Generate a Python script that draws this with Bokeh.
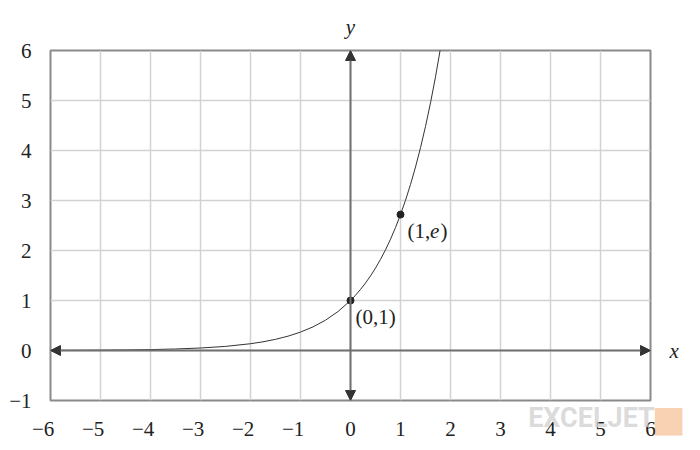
from bokeh.plotting import figure
from bokeh.models import Range1d, FixedTicker, Arrow, NormalHead, Label, ColumnDataSource, LinearAxis
from bokeh.embed import file_html
from bokeh.resources import INLINE

# ---- data ----
x_ticks = [-6, -5, -4, -3, -2, -1, 0, 1, 2, 3, 4, 5, 6]
x_tick_labels = ["−6", "−5", "−4", "−3", "−2", "−1", "0", "1", "2", "3", "4", "5", "6"]
y_ticks = [-1, 0, 1, 2, 3, 4, 5, 6]
y_tick_labels = ["−1", "0", "1", "2", "3", "4", "5", "6"]

curve_x = [-6.0, -5.5, -5.0, -4.5, -4.0, -3.5, -3.0, -2.5, -2.0, -1.75, -1.5, -1.25,
           -1.0, -0.75, -0.5, -0.25, 0.0, 0.1, 0.2, 0.3, 0.4, 0.5, 0.6, 0.7, 0.8,
           0.9, 1.0, 1.1, 1.2, 1.3, 1.4, 1.5, 1.6, 1.7, 1.8, 1.9]
curve_y = [0.00248, 0.00409, 0.00674, 0.01111, 0.01832, 0.03020, 0.04979, 0.08208,
           0.13534, 0.17377, 0.22313, 0.28650, 0.36788, 0.47237, 0.60653, 0.77880,
           1.0, 1.10517, 1.22140, 1.34986, 1.49182, 1.64872, 1.82212, 2.01375,
           2.22554, 2.45960, 2.71828, 3.00417, 3.32012, 3.66930, 4.05520, 4.48169,
           4.95303, 5.47395, 6.04965, 6.68589]

point_x = [0, 1]
point_y = [1, 2.71828]

axis_name_pos = [0]
x_name = ["x"]
y_name = ["y"]
watermark_pos = [4.82]
watermark_text = ["EXCELJET"]
logo_pos = [6]
logo_text = ["\u2003■"]

SERIF = "Liberation Serif"
FS = "21px"

p = figure(frame_width=600, frame_height=350,
           x_range=Range1d(-6, 6), y_range=Range1d(-1, 6),
           output_backend="svg", toolbar_location=None,
           min_border_left=50, min_border_right=50,
           min_border_top=50, min_border_bottom=50)

p.background_fill_color = "white"
p.border_fill_color = "white"
p.outline_line_color = "#8a8a8a"
p.outline_line_width = 2


def style_axis(ax, ticks, labels, standoff, font=SERIF, size=FS, italic=False,
               bold=False, color="#222222", alpha=1.0):
    ax.ticker = FixedTicker(ticks=ticks)
    ax.major_label_overrides = {t: l for t, l in zip(ticks, labels)}
    ax.axis_line_color = None
    ax.major_tick_line_color = None
    ax.minor_tick_line_color = None
    ax.major_tick_out = 0
    ax.major_tick_in = 0
    ax.minor_tick_out = 0
    ax.minor_tick_in = 0
    ax.major_label_standoff = standoff
    ax.major_label_text_font = font
    ax.major_label_text_font_size = size
    ax.major_label_text_color = color
    ax.major_label_text_alpha = alpha
    ax.major_label_text_font_style = ("bold" if bold else ("italic" if italic else "normal"))


# negative x labels: digit centred on the tick, minus sign hanging to the left
x_display = [l + "\u2002\u2009" if l.startswith("−") else l for l in x_tick_labels]
style_axis(p.xaxis[0], x_ticks, x_display, 16)
style_axis(p.yaxis[0], y_ticks, y_tick_labels, 19)

# axis names as extra axes (drawn outside the frame)
ax_top = LinearAxis()
style_axis(ax_top, axis_name_pos, y_name, 12, italic=True)
p.add_layout(ax_top, "above")
ax_right = LinearAxis()
style_axis(ax_right, axis_name_pos, x_name, 19, italic=True)
p.add_layout(ax_right, "right")

# watermark
ax_wm = LinearAxis()
style_axis(ax_wm, watermark_pos, watermark_text, -42,
           font="'Liberation Sans Narrow', Roboto", size="27px",
           bold=True, color="#cfcfcf", alpha=0.75)
p.add_layout(ax_wm, "below")
ax_logo = LinearAxis()
style_axis(ax_logo, logo_pos, logo_text, -46, font="DejaVu Sans", size="36px",
           color="#f6b27f", alpha=0.6)
p.add_layout(ax_logo, "below")

p.xgrid.ticker = FixedTicker(ticks=x_ticks)
p.ygrid.ticker = FixedTicker(ticks=y_ticks)
p.grid.grid_line_color = "#d2d2d2"
p.grid.grid_line_width = 1.5

# axes with arrows
for xs, ys, xe, ye in ((-6, 0, 6, 0), (0, -1, 0, 6)):
    p.add_layout(Arrow(x_start=xs, y_start=ys, x_end=xe, y_end=ye,
                       line_color="#707070", line_width=2,
                       start=NormalHead(size=10, fill_color="#333333", line_color="#333333"),
                       end=NormalHead(size=10, fill_color="#333333", line_color="#333333")))

src = ColumnDataSource(dict(x=curve_x, y=curve_y))
p.line("x", "y", source=src, line_color="#333333", line_width=1)
p.scatter(point_x, point_y, size=7, fill_color="#222222", line_color="#222222")


def lab(x, y, text, italic=False, xo=0):
    p.add_layout(Label(x=x, y=y, text=text, x_offset=xo,
                       text_font=SERIF, text_font_size=FS,
                       text_font_style="italic" if italic else "normal",
                       text_color="#222222", text_baseline="alphabetic",
                       text_align="left"))


lab(0.1, 0.68, "(0,1)")
lab(1.14, 2.40, "(1,")
lab(1.14, 2.40, "e", italic=True, xo=22.5)
lab(1.14, 2.40, ")", xo=33)

open("out.html", "w").write(file_html(p, INLINE))
